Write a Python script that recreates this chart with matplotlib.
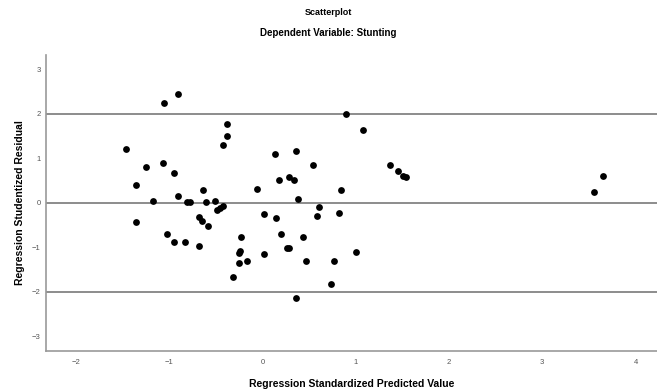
import matplotlib
matplotlib.use("Agg")
import matplotlib.pyplot as plt
import numpy as np

plt.rcParams['font.family'] = ['Liberation Sans', 'DejaVu Sans']

# standardized predicted value (x) and studentized residual (y)
pred = [-0.90, -1.06, -0.38, -0.38, -0.42, -1.46, 0.90, 0.13, 0.36, 0.54,
        -1.07, -1.25, -0.95, -1.36, 0.18, 0.29, 0.34, -0.06, -0.64, 0.84,
        -0.90, -1.17, -0.81, -0.78, -0.61, -0.51, -0.42, 0.38, 0.61, -1.36,
        -0.49, -0.45, 0.02, 0.15, 0.59, 0.82, -0.68, -0.65, -0.58, -1.02,
        -0.95, -0.83, -0.68, -0.23, 0.20, 0.44, -0.25, -0.25, -0.16, 0.02,
        0.26, 0.29, 0.47, 0.77, -0.31, 0.74, 0.36, 1.08, 1.37, 1.45,
        1.51, 1.54, 3.65, 3.56, 1.00, -0.24]
resid = [2.45, 2.24, 1.77, 1.51, 1.30, 1.21, 2.00, 1.10, 1.17, 0.85,
         0.89, 0.80, 0.67, 0.40, 0.52, 0.59, 0.52, 0.31, 0.28, 0.28,
         0.15, 0.04, 0.01, 0.02, 0.01, 0.04, -0.08, 0.08, -0.10, -0.42,
         -0.17, -0.12, -0.26, -0.34, -0.30, -0.22, -0.32, -0.41, -0.53, -0.71,
         -0.88, -0.88, -0.97, -0.77, -0.69, -0.76, -1.12, -1.36, -1.30, -1.16,
         -1.02, -1.02, -1.30, -1.30, -1.66, -1.83, -2.13, 1.65, 0.85, 0.72,
         0.61, 0.58, 0.60, 0.25, -1.11, -1.08]

x_ticks = [-2, -1, 0, 1, 2, 3, 4]
y_ticks = [-3, -2, -1, 0, 1, 2, 3]
ref_lines = [-2, 0, 2]

fig = plt.figure(figsize=(6.57, 3.92), dpi=100)
ax = fig.add_axes([0.070, 0.105, 0.930, 0.755])

for r in ref_lines:
    ax.axhline(r, color='#8c8c8c', lw=1.4, zorder=1)

ax.scatter(pred, resid, s=24, color='black', zorder=3, linewidths=0)

ax.set_xlim(-2.32, 4.23)
ax.set_ylim(-3.33, 3.33)
ax.set_xticks(x_ticks)
ax.set_yticks(y_ticks)
ax.tick_params(labelsize=5.5, labelcolor='#555555', length=0)
ax.tick_params(axis='x', pad=6)
ax.tick_params(axis='y', pad=4)

for s in ['top', 'right']:
    ax.spines[s].set_visible(False)
for s in ['left', 'bottom']:
    ax.spines[s].set_color('#999999')
    ax.spines[s].set_linewidth(1.2)

ax.set_xlabel('Regression Standardized Predicted Value', fontsize=7.5,
              fontweight='bold', labelpad=9)
ax.set_ylabel('Regression Studentized Residual', fontsize=7.5,
              fontweight='bold', labelpad=5)

fig.text(0.5, 0.968, 'Scatterplot', ha='center', va='center',
         fontsize=6.5, fontweight='bold')
fig.text(0.5, 0.915, 'Dependent Variable: Stunting', ha='center', va='center',
         fontsize=7, fontweight='bold')

fig.savefig('out.png', dpi=100)
